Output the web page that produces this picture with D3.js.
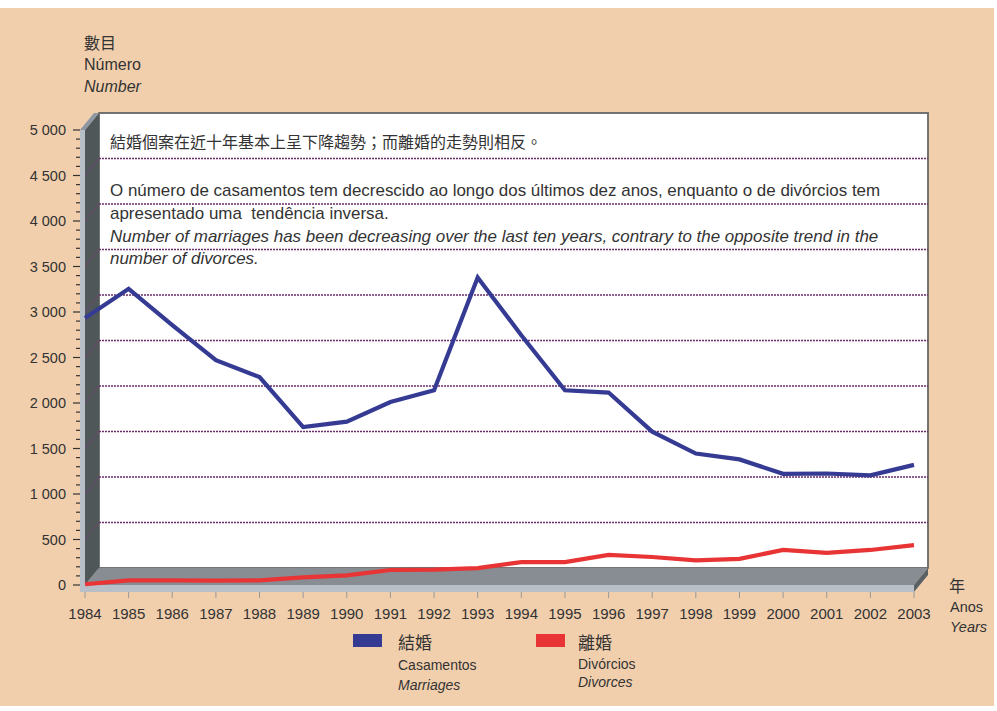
<!DOCTYPE html>
<html><head><meta charset="utf-8">
<script src="https://cdn.jsdelivr.net/npm/d3@7/dist/d3.min.js"></script>
<style>
html,body{margin:0;padding:0;background:#fff;}
svg{display:block;}
text{fill:#333;}
</style></head>
<body>
<svg id="chart" width="997" height="711"></svg>
<script>
// ---- data ----
const years = [1984,1985,1986,1987,1988,1989,1990,1991,1992,1993,1994,1995,1996,1997,1998,1999,2000,2001,2002,2003];
const marriages = [2935,3255,2855,2470,2285,1735,1795,2010,2140,3380,2745,2140,2115,1685,1445,1380,1222,1225,1205,1320];
const divorces  = [8,50,50,48,50,84,105,165,168,185,252,252,330,308,270,288,385,352,385,438];
const yTicks = [0,500,1000,1500,2000,2500,3000,3500,4000,4500,5000];
const seriesNames = [
  {zh:"結婚", pt:"Casamentos", en:"Marriages", color:"#353a93"},
  {zh:"離婚", pt:"Divórcios", en:"Divorces", color:"#e83434"}
];
const yTitle = ["數目","Número","Number"];
const xTitle = ["年","Anos","Years"];
const noteZh = "結婚個案在近十年基本上呈下降趨勢；而離婚的走勢則相反。";
const notePt = ["O número de casamentos tem decrescido ao longo dos últimos dez anos, enquanto o de divórcios tem","apresentado uma  tendência inversa."];
const noteEn = ["Number of marriages has been decreasing over the last ten years, contrary to the opposite trend in the","number of divorces."];

// ---- layout ----
const svg = d3.select("#chart");
const x = d3.scaleLinear().domain([1984,2003]).range([85,914]);
const y = d3.scaleLinear().domain([0,5000]).range([585,130]);
const DX = 14, DY = -17;
const narrow = "'Liberation Sans Narrow','Arial Narrow','Liberation Sans',sans-serif";
const sans = "'Liberation Sans',Arial,sans-serif";
const cjk = "'Noto Sans CJK TC','Noto Sans CJK SC',sans-serif";

svg.append("rect").attr("x",0).attr("y",8).attr("width",994).attr("height",698).attr("fill","#f1cfad");

const x0 = x(1984), x1 = x(2003), yb = y(0), yt = y(5000);

// back wall
svg.append("rect").attr("x",x0+DX).attr("y",yt+DY).attr("width",x1-x0).attr("height",yb-yt)
  .attr("fill","#fff").attr("stroke","#666").attr("stroke-width",1.8);

// left wall
const poly = pts => pts.map(p=>p.join(",")).join(" ");
svg.append("polygon").attr("points",poly([[x0,yt],[x0+DX,yt+DY],[x0+DX,yb+DY],[x0,yb]])).attr("fill","#4f5759");
// floor
svg.append("polygon").attr("points",poly([[x0,yb],[x0+DX,yb+DY],[x1+DX,yb+DY],[x1,yb]])).attr("fill","#878d93");

// gridlines on back wall + diagonals on left wall
const gridVals = yTicks.filter(v=>v>0 && v<5000);
svg.append("g").selectAll("line").data(gridVals).join("line")
  .attr("x1",x0+DX).attr("x2",x1+DX).attr("y1",d=>y(d)+DY).attr("y2",d=>y(d)+DY)
  .attr("stroke","#6b2c6b").attr("stroke-width",1.4).attr("stroke-dasharray","2,1");
svg.append("g").selectAll("line").data(gridVals).join("line")
  .attr("x1",x0).attr("x2",x0+DX).attr("y1",d=>y(d)).attr("y2",d=>y(d)+DY)
  .attr("stroke","#7a3d7a").attr("stroke-width",1).attr("stroke-dasharray","2,1");

// front faces (thickness)
const T = 5, F = 7;
svg.append("polygon").attr("points",poly([[x0-T,yt],[x0,yt],[x0+DX,yt+DY],[x0+DX-T,yt+DY]])).attr("fill","#8c97a3");
svg.append("rect").attr("x",x0-T).attr("y",yt).attr("width",T).attr("height",yb-yt+F).attr("fill","#b9bfc6");
svg.append("rect").attr("x",x0-T).attr("y",yb).attr("width",x1-x0+T).attr("height",F).attr("fill","#b9bfc6");
svg.append("polygon").attr("points",poly([[x1,yb],[x1+DX,yb+DY],[x1+DX,yb+DY+F],[x1,yb+F]])).attr("fill","#5a6165");

// y axis ticks
const minor = d3.range(0,5001,100);
svg.append("g").selectAll("line").data(minor).join("line")
  .attr("x1",d=>d%500===0? x0-T-7 : x0-T-4).attr("x2",x0-T)
  .attr("y1",d=>y(d)).attr("y2",d=>y(d)).attr("stroke","#333").attr("stroke-width",1.2);
const fmt = v => v>=1000 ? d3.format(",")(v).replace(",", " ") : String(v);
svg.append("g").selectAll("text").data(yTicks).join("text")
  .attr("x",66).attr("y",d=>y(d)+5).attr("text-anchor","end")
  .style("font-family",narrow).style("font-size","14.5px").text(fmt);

// x axis ticks + labels
svg.append("g").selectAll("line").data(years).join("line")
  .attr("x1",d=>x(d)).attr("x2",d=>x(d)).attr("y1",yb+F).attr("y2",yb+F+6)
  .attr("stroke","#999").attr("stroke-width",1);
svg.append("g").selectAll("text").data(years).join("text")
  .attr("x",d=>x(d)).attr("y",619).attr("text-anchor","middle")
  .style("font-family",narrow).style("font-size","15px").text(d=>d);

// lines
const line = d3.line().x((d,i)=>x(years[i])).y(d=>y(d));
[marriages, divorces].forEach((s,k)=>{
  svg.append("path").datum(s).attr("d",line).attr("fill","none")
    .attr("stroke",seriesNames[k].color).attr("stroke-width",4.2).attr("stroke-linejoin","miter");
});

// note text
svg.append("text").attr("x",110).attr("y",148).style("font-family",cjk).style("font-size","16px").text(noteZh);
function fitLines(lines, ys, italic){
  const base = 15.5;
  const t0 = svg.append("text").attr("x",110).attr("y",ys[0]).style("font-family",sans)
    .style("font-size",base+"px").style("font-style",italic?"italic":"normal").style("white-space","pre").text(lines[0]);
  const w = t0.node().getComputedTextLength();
  const target = italic ? 769 : 771;
  const fs = base*target/w;
  t0.style("font-size",fs+"px");
  svg.append("text").attr("x",110).attr("y",ys[1]).style("font-family",sans)
    .style("font-size",fs+"px").style("font-style",italic?"italic":"normal").style("white-space","pre").text(lines[1]);
}
fitLines(notePt,[196,219],false);
fitLines(noteEn,[242,264],true);

// axis titles
svg.append("text").attr("x",84).attr("y",49).style("font-family",cjk).style("font-size","16px").text(yTitle[0]);
svg.append("text").attr("x",84).attr("y",70).style("font-family",sans).style("font-size","16px").text(yTitle[1]);
svg.append("text").attr("x",84).attr("y",92).style("font-family",sans).style("font-size","16px").style("font-style","italic").text(yTitle[2]);
svg.append("text").attr("x",949).attr("y",592).style("font-family",cjk).style("font-size","16px").text(xTitle[0]);
svg.append("text").attr("x",950).attr("y",612).style("font-family",sans).style("font-size","14.5px").text(xTitle[1]);
svg.append("text").attr("x",950).attr("y",632).style("font-family",sans).style("font-size","14.5px").style("font-style","italic").text(xTitle[2]);

// legend
const lg = [{rx:353, tx:398, ys:[649,670,690]},{rx:536, tx:578, ys:[649,669,687]}];
seriesNames.forEach((s,k)=>{
  const L = lg[k];
  svg.append("rect").attr("x",L.rx).attr("y",634).attr("width",29).attr("height",13).attr("fill",s.color);
  svg.append("text").attr("x",L.tx).attr("y",L.ys[0]).style("font-family",cjk).style("font-size","17px").text(s.zh);
  svg.append("text").attr("x",L.tx).attr("y",L.ys[1]).style("font-family",sans).style("font-size","14px").text(s.pt);
  svg.append("text").attr("x",L.tx).attr("y",L.ys[2]).style("font-family",sans).style("font-size","14px").style("font-style","italic").text(s.en);
});
</script>
</body></html>
